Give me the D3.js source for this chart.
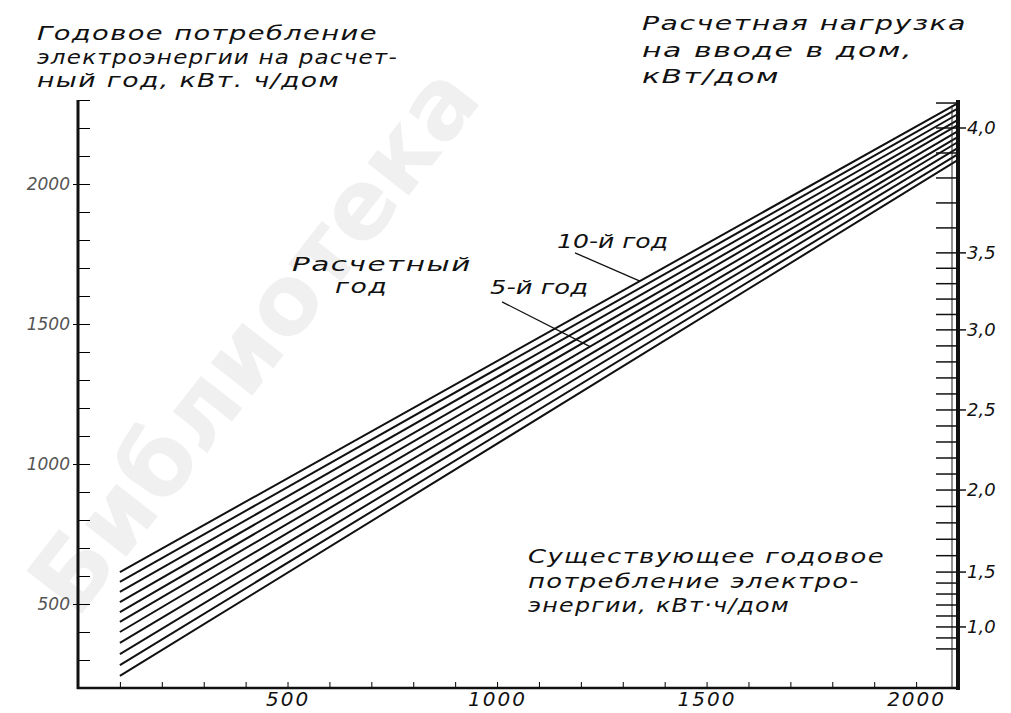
<!DOCTYPE html>
<html>
<head>
<meta charset="utf-8">
<script src="https://cdn.jsdelivr.net/npm/d3@7"></script>
<style>
  body { margin: 0; background: #fff; }
  svg text { font-family: "DejaVu Sans", sans-serif; font-style: italic; fill: #111; }
</style>
</head>
<body>
<svg id="chart" width="1011" height="713"></svg>
<script>
// forecast years, top line first
const years = [10, 9, 8, 7, 6, 5, 4, 3, 2, 1, 0]
const startX = 100
const endX = 2100
// consumption in the forecast year at x = 100 and x = 2100, kWh/house
const startVals = [614, 579, 543, 507, 471, 436, 400, 361, 321, 282, 243]
const endVals = [2289, 2270, 2250, 2229, 2211, 2189, 2168, 2150, 2129, 2107, 2086]
const xLabels = [500, 1000, 1500, 2000]
const yLabels = [500, 1000, 1500, 2000]
// right scale: load kW and the consumption it sits against
const loadLabels = [1.0, 1.5, 2.0, 2.5, 3.0, 3.5, 4.0]
const loadEquiv = [418, 614, 907, 1193, 1479, 1754, 2200]

const svg = d3.select('#chart')
const x = d3.scaleLinear().domain([0, 2100]).range([78, 958])
const y = d3.scaleLinear().domain([200, 2300]).range([688, 100])
const load = d3.scaleLinear().domain(loadLabels).range(loadEquiv)

// watermark of the scan
svg.append('text')
  .attr('transform', 'translate(280,360) rotate(-52)')
  .attr('text-anchor', 'middle')
  .style('font', 'bold 96px "DejaVu Sans"')
  .style('fill', '#f0f0f0')
  .text('Библиотека')

// lines
svg.append('g').selectAll('line')
  .data(years)
  .join('line')
  .attr('x1', x(startX))
  .attr('y1', (d, i) => y(startVals[i]))
  .attr('x2', x(endX))
  .attr('y2', (d, i) => y(endVals[i]))
  .attr('stroke', '#111')
  .attr('stroke-width', 2)

// left axis
const yAxis = svg.append('g').attr('transform', `translate(${x(0)},0)`)
yAxis.call(d3.axisLeft(y).tickValues(d3.range(250, 2300, 100)).tickSize(-5).tickFormat(''))
yAxis.call(d3.axisLeft(y).tickValues(d3.range(300, 2301, 100)).tickSize(-12).tickFormat(''))
yAxis.selectAll('.domain').remove()
const yLab = svg.append('g').attr('transform', `translate(${x(0)},0)`)
  .call(d3.axisLeft(y).tickValues(yLabels).tickSize(5).tickPadding(3).tickFormat(d3.format('d')))
yLab.select('.domain').remove()
yLab.selectAll('text').style('font-size', '17px').style('fill', '#555').style('font-family', '"DejaVu Sans"')
svg.append('line').attr('x1', x(0)).attr('x2', x(0)).attr('y1', y(2300)).attr('y2', y(200) + 1)
  .attr('stroke', '#111').attr('stroke-width', 3)

// bottom axis
const xAxis = svg.append('g').attr('transform', `translate(0,${y(200)})`)
xAxis.call(d3.axisBottom(x).tickValues(d3.range(100, 2001, 100)).tickSize(-6).tickFormat(''))
xAxis.select('.domain').remove()
const xLab = svg.append('g').attr('transform', `translate(0,${y(200)})`)
  .call(d3.axisBottom(x).tickValues(xLabels).tickSize(0).tickPadding(4).tickFormat(d3.format('d')))
xLab.select('.domain').remove()
xLab.selectAll('text').style('font-size', '20px').style('letter-spacing', '2px').style('font-family', '"DejaVu Sans"')
svg.append('line').attr('x1', x(0) - 1).attr('x2', x(2100)).attr('y1', y(200)).attr('y2', y(200))
  .attr('stroke', '#111').attr('stroke-width', 2.5)

// right axis (load)
const rx = x(2100)
svg.append('line').attr('x1', rx).attr('x2', rx).attr('y1', y(2300)).attr('y2', y(200) + 2)
  .attr('stroke', '#111').attr('stroke-width', 4)
svg.append('line').attr('x1', rx - 6).attr('x2', rx - 6).attr('y1', y(2280)).attr('y2', y(200))
  .attr('stroke', '#222').attr('stroke-width', 1)
svg.append('g').selectAll('line')
  .data(d3.range(0.8, 4.15, 0.1))
  .join('line')
  .attr('x1', rx - 22)
  .attr('x2', rx)
  .attr('y1', d => y(load(d)))
  .attr('y2', d => y(load(d)))
  .attr('stroke', '#111').attr('stroke-width', 1.5)
const rLab = svg.append('g').selectAll('g')
  .data(loadLabels)
  .join('g')
  .attr('transform', d => `translate(${rx},${y(load(d))})`)
rLab.append('line').attr('x1', 2).attr('x2', 8).attr('stroke', '#111').attr('stroke-width', 1.5)
rLab.append('text').attr('x', 9).attr('dy', '0.35em')
  .style('font-size', '18px')
  .text(d => d3.format('.1f')(d).replace('.', ','))

// captions, glyphs stretched wide like the drafting font
function caption(lines, x0, y0, step) {
  lines.forEach((l, i) => {
    svg.append('text').attr('x', x0).attr('y', y0 + i * step)
      .attr('textLength', l[1]).attr('lengthAdjust', 'spacingAndGlyphs')
      .style('font-size', '19px')
      .style('letter-spacing', '1px')
      .text(l[0])
  })
}
caption([['Годовое потребление', 341], ['электроэнергии на расчет-', 361], ['ный год, кВт. ч/дом', 303]], 37, 40, 23.5)
caption([['Расчетная нагрузка', 325], ['на вводе в дом,', 271], ['кВт/дом', 138]], 642, 30, 26.5)
caption([['Существующее годовое', 357], ['потребление электро-', 332], ['энергии, кВт·ч/дом', 262]], 528, 563, 24.5)
caption([['Расчетный', 180], ['год', 53]], 292, 271, 0)
svg.selectAll('text').filter(function() { return d3.select(this).text() === 'год' })
  .attr('x', 335).attr('y', 293)

// year labels with leaders
const lineY = (i, xv) => startVals[i] + (endVals[i] - startVals[i]) * (xv - startX) / (endX - startX)
const notes = [
  { year: 10, text: '10-й год', tx: 557, ty: 248, len: 111, fx: 1186, fy: 1754, toX: 1341 },
  { year: 5, text: '5-й год', tx: 490, ty: 294, len: 98, fx: 1012, fy: 1579, toX: 1222 }
]
notes.forEach(n => {
  const i = years.indexOf(n.year)
  svg.append('line')
    .attr('x1', x(n.fx)).attr('y1', y(n.fy))
    .attr('x2', x(n.toX)).attr('y2', y(lineY(i, n.toX)))
    .attr('stroke', '#111').attr('stroke-width', 1.3)
  svg.append('text').attr('x', n.tx).attr('y', n.ty)
    .attr('textLength', n.len).attr('lengthAdjust', 'spacingAndGlyphs')
    .style('font-size', '19px')
    .text(n.text)
})
</script>
</body>
</html>
